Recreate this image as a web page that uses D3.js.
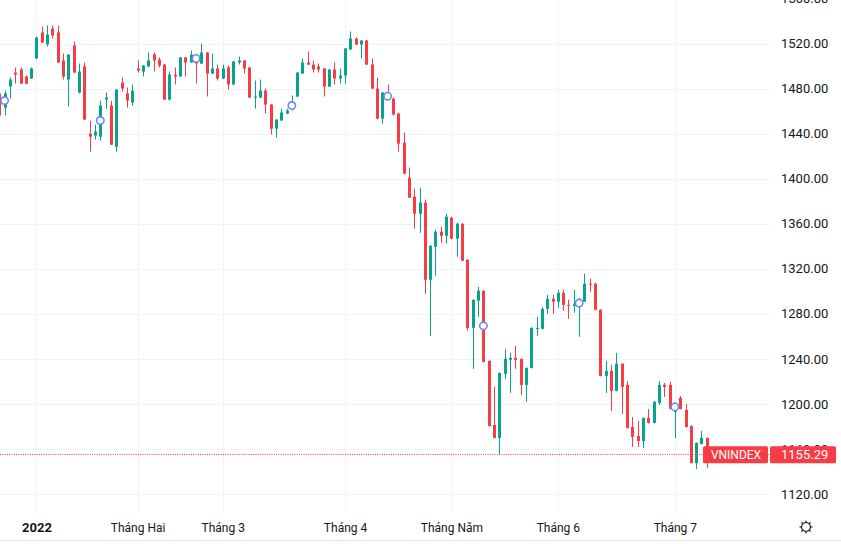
<!DOCTYPE html>
<html>
<head>
<meta charset="utf-8">
<script src="https://cdn.jsdelivr.net/npm/d3@7/dist/d3.min.js"></script>
<style>
body{margin:0;background:#fff;}
svg{display:block;font-family:Roboto,"Liberation Sans",sans-serif;}
</style>
</head>
<body>
<script>
// phiên giao dịch (ngày)
var dates = [
 "2021-12-23","2021-12-24","2021-12-27","2021-12-28","2021-12-29","2021-12-30","2021-12-31",
 "2022-01-04","2022-01-05","2022-01-06","2022-01-07","2022-01-10","2022-01-11","2022-01-12","2022-01-13","2022-01-14","2022-01-17","2022-01-18","2022-01-19","2022-01-20","2022-01-21","2022-01-24","2022-01-25","2022-01-26","2022-01-27","2022-01-28",
 "2022-02-07","2022-02-08","2022-02-09","2022-02-10","2022-02-11","2022-02-14","2022-02-15","2022-02-16","2022-02-17","2022-02-18","2022-02-21","2022-02-22","2022-02-23","2022-02-24","2022-02-25","2022-02-28",
 "2022-03-01","2022-03-02","2022-03-03","2022-03-04","2022-03-07","2022-03-08","2022-03-09","2022-03-10","2022-03-11","2022-03-14","2022-03-15","2022-03-16","2022-03-17","2022-03-18","2022-03-21","2022-03-22","2022-03-23","2022-03-24","2022-03-25","2022-03-28","2022-03-29","2022-03-30","2022-03-31",
 "2022-04-01","2022-04-04","2022-04-05","2022-04-06","2022-04-07","2022-04-08","2022-04-12","2022-04-13","2022-04-14","2022-04-15","2022-04-18","2022-04-19","2022-04-20","2022-04-21","2022-04-22","2022-04-25","2022-04-26","2022-04-27","2022-04-28","2022-04-29",
 "2022-05-04","2022-05-05","2022-05-06","2022-05-09","2022-05-10","2022-05-11","2022-05-12","2022-05-13","2022-05-16","2022-05-17","2022-05-18","2022-05-19","2022-05-20","2022-05-23","2022-05-24","2022-05-25","2022-05-26","2022-05-27","2022-05-30","2022-05-31",
 "2022-06-01","2022-06-02","2022-06-03","2022-06-06","2022-06-07","2022-06-08","2022-06-09","2022-06-10","2022-06-13","2022-06-14","2022-06-15","2022-06-16","2022-06-17","2022-06-20","2022-06-21","2022-06-22","2022-06-23","2022-06-24","2022-06-27","2022-06-28","2022-06-29","2022-06-30",
 "2022-07-01","2022-07-04","2022-07-05","2022-07-06","2022-07-07","2022-07-08","2022-07-11"
];

var open = [1475.6,1463.1,1481.8,1494.2,1496.9,1490.7,1488.9,
 1506.7,1529.8,1519.1,1533.3,1529.8,1504.9,1488.0,1518.2,1476.4,1499.6,1440.0,1438.2,1437.3,1470.2,1464.9,1428.4,1485.3,1475.6,1467.6,
 1497.8,1495.1,1499.6,1510.2,1505.8,1501.3,1470.2,1492.4,1490.7,1507.6,1503.1,1507.6,1502.2,1512.0,1493.3,1497.8,
 1488.9,1498.7,1483.6,1503.1,1504.9,1498.7,1472.0,1472.0,1478.2,1465.8,1444.4,1451.6,1457.8,1462.2,1472.9,1493.3,1503.1,1501.3,1499.6,1497.8,1481.8,1496.9,1488.9,
 1491.6,1514.7,1524.4,1519.1,1522.7,1501.3,1480.0,1453.3,1475.6,1471.1,1457.8,1432.0,1400.9,1384.0,1368.9,1378.7,1310.2,1339.5,1352.9,1349.3,
 1365.3,1346.7,1360.0,1328.0,1267.5,1291.6,1300.4,1238.2,1181.3,1169.8,1226.7,1239.1,1240.9,1240.0,1216.9,1232.0,1266.7,1266.7,1284.4,1293.3,
 1290.7,1298.7,1288.0,1287.1,1286.2,1290.7,1306.7,1306.7,1283.6,1224.9,1229.3,1211.5,1235.6,1216.9,1179.5,1171.5,1167.1,1187.5,1183.1,1200.9,1216.9,1216.9,
 1192.9,1205.3,1194.7,1180.4,1147.5,1164.4,1169.8];

var high = [1478.2,1478.2,1489.8,1498.7,1498.7,1491.6,1498.7,
 1526.2,1535.1,1536.0,1536.0,1536.0,1511.1,1510.2,1521.8,1502.2,1503.1,1451.6,1448.0,1469.3,1476.4,1469.3,1479.1,1489.8,1480.9,1483.6,
 1504.9,1500.9,1512.0,1512.0,1507.6,1501.8,1495.1,1498.7,1508.0,1508.0,1513.8,1509.3,1520.0,1512.4,1511.1,1501.3,
 1501.3,1500.4,1504.4,1508.4,1505.3,1499.1,1487.1,1488.0,1480.0,1466.2,1452.9,1462.2,1462.2,1473.8,1494.7,1506.7,1512.9,1504.9,1502.2,1498.2,1497.3,1503.1,1497.8,
 1516.0,1530.7,1525.3,1523.1,1523.1,1506.7,1489.8,1476.9,1483.6,1472.0,1458.7,1440.9,1409.8,1391.1,1392.0,1381.3,1340.9,1354.7,1357.3,1368.9,
 1366.2,1360.9,1360.4,1328.4,1292.9,1304.0,1300.9,1238.7,1215.1,1228.0,1248.9,1245.3,1251.6,1240.4,1232.4,1268.0,1277.3,1286.2,1296.9,1296.9,
 1301.3,1301.3,1292.4,1301.3,1294.2,1315.6,1311.1,1307.6,1284.0,1238.2,1234.7,1245.3,1236.0,1220.4,1188.4,1184.9,1188.0,1195.5,1202.7,1220.4,1218.7,1219.6,
 1200.9,1207.1,1200.0,1180.9,1165.8,1176.0,1170.2];

var low = [1453.3,1456.0,1471.1,1484.4,1484.0,1483.6,1488.4,
 1506.2,1520.4,1517.3,1524.4,1502.7,1488.0,1464.0,1493.8,1475.6,1452.0,1424.0,1434.7,1433.8,1462.2,1429.8,1424.0,1477.3,1463.1,1464.9,
 1494.2,1490.7,1499.1,1495.1,1498.7,1469.8,1469.3,1483.6,1490.2,1490.7,1502.7,1484.4,1501.8,1472.9,1492.9,1487.1,
 1488.4,1479.1,1483.1,1501.3,1493.3,1471.5,1462.2,1471.5,1457.8,1439.1,1436.4,1451.1,1457.3,1460.4,1472.4,1492.9,1500.9,1494.2,1494.2,1472.9,1481.3,1483.6,1484.4,
 1484.4,1514.2,1518.7,1506.7,1500.9,1479.6,1452.9,1448.9,1469.8,1456.0,1424.0,1404.0,1382.7,1355.5,1352.0,1297.8,1260.4,1313.8,1343.1,1342.2,
 1346.2,1330.7,1326.7,1264.9,1231.1,1277.3,1236.9,1179.6,1169.3,1155.5,1222.2,1209.8,1231.1,1208.0,1201.8,1231.5,1260.4,1266.2,1280.0,1280.0,
 1285.3,1282.7,1275.5,1280.9,1259.6,1290.7,1299.6,1283.1,1224.4,1209.8,1193.8,1211.1,1191.1,1178.2,1161.8,1161.8,1160.9,1182.6,1182.6,1199.1,1206.2,1195.1,
 1169.8,1195.1,1179.1,1147.1,1142.2,1164.0,1143.1];

var close = [1456.0,1475.6,1488.0,1492.4,1484.4,1484.4,1497.8,
 1525.3,1520.9,1528.0,1527.1,1503.1,1490.7,1510.2,1494.2,1495.1,1452.5,1437.3,1441.8,1464.9,1472.0,1430.2,1479.1,1480.0,1469.3,1478.2,
 1496.0,1500.4,1504.9,1504.9,1500.4,1470.2,1492.4,1490.7,1507.6,1503.1,1510.2,1502.2,1512.0,1493.3,1497.8,1488.9,
 1497.8,1483.6,1504.0,1504.9,1497.8,1472.0,1472.9,1478.2,1465.8,1444.4,1452.4,1458.7,1460.4,1467.6,1494.2,1503.1,1501.3,1496.9,1496.9,1481.8,1496.9,1488.9,1491.6,
 1515.6,1524.4,1519.1,1522.7,1501.3,1480.0,1453.3,1476.4,1470.2,1456.9,1431.1,1404.4,1383.1,1368.9,1378.7,1310.2,1340.4,1352.9,1349.3,1366.2,
 1346.7,1360.0,1327.1,1267.5,1292.4,1300.4,1237.3,1180.4,1169.8,1227.5,1240.0,1240.9,1239.1,1216.9,1232.0,1267.5,1267.5,1284.4,1293.3,1290.7,
 1298.7,1288.0,1287.1,1288.9,1291.6,1306.7,1305.8,1283.6,1224.9,1229.3,1211.5,1235.6,1215.1,1178.7,1170.7,1167.1,1187.5,1183.1,1201.8,1216.9,1215.1,1195.5,
 1199.1,1195.5,1179.5,1147.5,1165.3,1169.8,1155.29];

// các điểm đánh dấu (vòng tròn xanh)
var markerDates = ["2021-12-24","2022-01-20","2022-02-22","2022-03-18","2022-04-14","2022-05-12","2022-06-07","2022-07-01"];
var markerValues = [1469.3,1451.6,1506.7,1464.9,1473.2,1269.3,1289.5,1197.3];

// nhãn trục
var monthTicks = ["2022-01-04","2022-02-07","2022-03-01","2022-04-01","2022-05-04","2022-06-01","2022-07-01"];
var monthLabels = ["2022","Tháng Hai","Tháng 3","Tháng 4","Tháng Năm","Tháng 6","Tháng 7"];
var priceTicks = [1120,1160,1200,1240,1280,1320,1360,1400,1440,1480,1520,1560];
var symbol = "VNINDEX";

var width = 841, height = 544;
var plotRight = 770, plotBottom = 512;
var upColor = "#06a58b", downColor = "#f73c46", gridColor = "#f0f3fa", textColor = "#131722";

var svg = d3.select("body").append("svg").attr("width", width).attr("height", height);

var x = d3.scalePoint().domain(dates).range([-0.74, 706.8]);
var y = d3.scaleLinear().domain([1120, 1520]).range([494, 43.5]);

// lưới
var grid = svg.append("g");
grid.selectAll(".hg").data(priceTicks).enter().append("line")
  .attr("x1", 0).attr("x2", plotRight)
  .attr("y1", function(d){ return Math.round(y(d)) + 0.5; })
  .attr("y2", function(d){ return Math.round(y(d)) + 0.5; })
  .attr("stroke", gridColor);
grid.selectAll(".vg").data(monthTicks).enter().append("line")
  .attr("y1", 0).attr("y2", plotBottom)
  .attr("x1", function(d){ return Math.round(x(d)) + 0.5; })
  .attr("x2", function(d){ return Math.round(x(d)) + 0.5; })
  .attr("stroke", gridColor);

// nến
var idx = d3.range(dates.length);
var candles = svg.append("g").selectAll("g").data(idx).enter().append("g");
function col(i){ return close[i] >= open[i] ? upColor : downColor; }
candles.append("line")
  .attr("x1", function(i){ return Math.round(x(dates[i])) + 0.5; })
  .attr("x2", function(i){ return Math.round(x(dates[i])) + 0.5; })
  .attr("y1", function(i){ return y(high[i]); })
  .attr("y2", function(i){ return y(low[i]); })
  .attr("stroke", col).attr("stroke-width", 1);
candles.append("rect")
  .attr("x", function(i){ return Math.round(x(dates[i])) - 1; })
  .attr("width", 3)
  .attr("y", function(i){ return y(Math.max(open[i], close[i])); })
  .attr("height", function(i){ return Math.max(1, Math.abs(y(open[i]) - y(close[i]))); })
  .attr("fill", col);

// đường giá cuối
var last = close[close.length - 1];
var yl = Math.round(y(last)) + 0.5;
svg.append("line").attr("x1", 0).attr("x2", plotRight).attr("y1", yl).attr("y2", yl)
  .attr("stroke", downColor).attr("stroke-dasharray", "1,1.3");

// vòng tròn đánh dấu
svg.append("g").selectAll("circle").data(markerDates).enter().append("circle")
  .attr("cx", function(d){ return x(d); })
  .attr("cy", function(d, i){ return y(markerValues[i]); })
  .attr("r", 3.7)
  .attr("fill", "#fff").attr("stroke", "#6d86f7").attr("stroke-width", 1.6);

// trục giá
var yAxis = svg.append("g").attr("transform", "translate(781,0)")
  .call(d3.axisRight(y).tickValues(priceTicks).tickSize(0).tickPadding(0).tickFormat(d3.format(".2f")));
yAxis.select(".domain").remove();
yAxis.selectAll("text").attr("fill", textColor).style("font-size", "13px").style("font-family", "Roboto");

// trục thời gian
var xAxis = svg.append("g").attr("transform", "translate(0," + plotBottom + ")")
  .call(d3.axisBottom(x).tickValues(monthTicks).tickSize(0).tickPadding(11).tickFormat(function(d, i){ return monthLabels[i]; }));
xAxis.select(".domain").remove();
xAxis.selectAll("text").attr("fill", textColor).style("font-size", "12px").style("font-family", "Roboto");
xAxis.select(".tick text").style("font-weight", "700").style("font-size", "13px");

svg.append("line").attr("x1", 0).attr("x2", width).attr("y1", 540.5).attr("y2", 540.5).attr("stroke", "#e0e3eb");

// nhãn giá cuối
var yc = y(last);
svg.append("rect").attr("x", 703).attr("y", yc - 8).attr("width", 65).attr("height", 17).attr("rx", 1.5).attr("fill", downColor);
svg.append("text").attr("x", 736).attr("y", yc + 0.5).attr("dy", "0.35em").attr("text-anchor", "middle")
  .attr("fill", "#fff").style("font-size", "12px").text(symbol);
svg.append("rect").attr("x", 770).attr("y", yc - 8).attr("width", 66).attr("height", 17).attr("rx", 1.5).attr("fill", downColor);
svg.append("text").attr("x", 781).attr("y", yc + 0.5).attr("dy", "0.35em")
  .attr("fill", "#fff").style("font-size", "13px").text(d3.format(".2f")(last));

// biểu tượng cài đặt
var gear = svg.append("g").attr("transform", "translate(806,527)");
gear.append("circle").attr("r", 4.5).attr("fill", "none").attr("stroke", textColor).attr("stroke-width", 1.1);
gear.selectAll("line").data(d3.range(8)).enter().append("line")
  .attr("x1", function(d){ return 4.5 * Math.cos(d * Math.PI / 4); })
  .attr("y1", function(d){ return 4.5 * Math.sin(d * Math.PI / 4); })
  .attr("x2", function(d){ return 6.5 * Math.cos(d * Math.PI / 4); })
  .attr("y2", function(d){ return 6.5 * Math.sin(d * Math.PI / 4); })
  .attr("stroke", textColor).attr("stroke-width", 1.1);
</script>
</body>
</html>
